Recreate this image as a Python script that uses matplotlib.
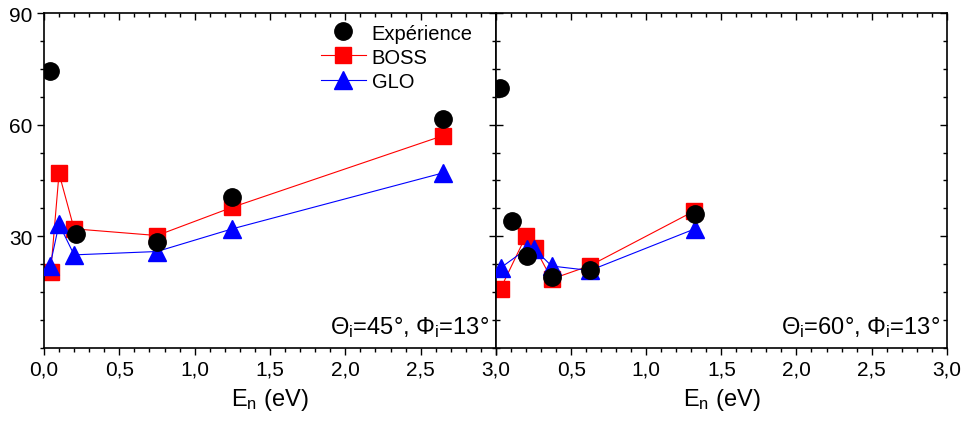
import matplotlib
matplotlib.use("Agg")
import matplotlib.pyplot as plt
from matplotlib.ticker import MultipleLocator, FuncFormatter

plt.rcParams['font.family'] = ['Liberation Sans', 'DejaVu Sans']
plt.rcParams['mathtext.fontset'] = 'custom'
plt.rcParams['mathtext.rm'] = 'Liberation Sans'
plt.rcParams['mathtext.it'] = 'Liberation Sans'

# Panneau gauche (Theta=45)
x_exp_45 = [0.04, 0.21, 0.75, 1.25, 2.645]
y_exp_45 = [74.3, 30.6, 28.4, 40.5, 61.5]
x_boss_45 = [0.045, 0.10, 0.20, 0.75, 1.25, 2.645]
y_boss_45 = [20.5, 46.9, 32.0, 30.2, 37.8, 57.0]
x_glo_45 = [0.04, 0.10, 0.20, 0.75, 1.25, 2.645]
y_glo_45 = [22.0, 33.3, 25.0, 25.9, 32.0, 47.0]

# Panneau droit (Theta=60)
x_exp_60 = [0.027, 0.104, 0.204, 0.37, 0.625, 1.324]
y_exp_60 = [69.8, 34.2, 24.8, 19.0, 20.8, 36.0]
x_boss_60 = [0.03, 0.198, 0.26, 0.37, 0.625, 1.32]
y_boss_60 = [15.9, 30.0, 26.8, 18.5, 22.1, 36.8]
x_glo_60 = [0.03, 0.204, 0.255, 0.37, 0.625, 1.324]
y_glo_60 = [21.5, 26.6, 26.6, 22.0, 20.8, 32.0]

fig = plt.figure(figsize=(9.66, 4.27), dpi=100)
ax1 = fig.add_axes([0.0455, 0.183, 0.468, 0.784])
ax2 = fig.add_axes([0.5135, 0.183, 0.4665, 0.784])

virgule = FuncFormatter(lambda v, p: f"{v:.1f}".replace(".", ","))


def tracer(ax, xe, ye, xb, yb, xg, yg, texte):
    ax.plot(xb, yb, color='red', lw=0.8, marker='s', ms=11, mec='red', label='BOSS', zorder=2)
    ax.plot(xg, yg, color='blue', lw=0.8, marker='^', ms=13, mec='blue', label='GLO', zorder=3)
    ax.plot(xe, ye, ls='none', color='black', marker='o', ms=12.5, label='Expérience', zorder=4)
    ax.set_xlim(0, 3)
    ax.set_ylim(0, 90)
    ax.xaxis.set_major_locator(MultipleLocator(0.5))
    ax.xaxis.set_minor_locator(MultipleLocator(0.1))
    ax.xaxis.set_major_formatter(virgule)
    ax.set_yticks([30, 60, 90])
    ax.yaxis.set_minor_locator(MultipleLocator(7.5))
    ax.tick_params(axis='both', which='major', labelsize=15, length=5, width=1)
    ax.tick_params(axis='both', which='minor', length=3, width=1)
    for s in ax.spines.values():
        s.set_linewidth(1.2)
    ax.set_xlabel(r'E$_\mathregular{n}$ (eV)', fontsize=17, labelpad=5)
    ax.text(0.985, 0.025, texte, transform=ax.transAxes, ha='right', va='bottom', fontsize=17)


tracer(ax1, x_exp_45, y_exp_45, x_boss_45, y_boss_45, x_glo_45, y_glo_45,
       r'$\mathregular{\Theta_i}$=45°, $\mathregular{\Phi_i}$=13°')
tracer(ax2, x_exp_60, y_exp_60, x_boss_60, y_boss_60, x_glo_60, y_glo_60,
       r'$\mathregular{\Theta_i}$=60°, $\mathregular{\Phi_i}$=13°')

# ticks: haut et droite vers l'interieur, bas et gauche vers l'exterieur
for ax in (ax1, ax2):
    ax.tick_params(axis='x', which='both', top=True)
    ax.xaxis.set_tick_params(which='both', direction='out')
ax1.tick_params(axis='y', which='both', left=True, right=True, direction='out')
for t in ax1.yaxis.get_ticklines(minor=False)[1::2] + ax1.yaxis.get_ticklines(minor=True)[1::2]:
    t.set_marker(matplotlib.lines.TICKLEFT)
ax2.tick_params(axis='y', which='both', left=True, right=True, direction='in', labelleft=False)
for ax in (ax1, ax2):
    for t in ax.xaxis.get_ticklines(minor=False)[1::2] + ax.xaxis.get_ticklines(minor=True)[1::2]:
        t.set_marker(matplotlib.lines.TICKDOWN)

ax2.xaxis.set_major_formatter(FuncFormatter(lambda v, p: "" if v == 0 else f"{v:.1f}".replace(".", ",")))

h, l = ax1.get_legend_handles_labels()
ax1.legend([h[2], h[0], h[1]], [l[2], l[0], l[1]], loc='upper right', bbox_to_anchor=(0.975, 1.005),
           frameon=False, fontsize=14.5, handlelength=2.2, handletextpad=0.3,
           labelspacing=0.25, borderaxespad=0.2)

fig.savefig('out.png', dpi=100)
